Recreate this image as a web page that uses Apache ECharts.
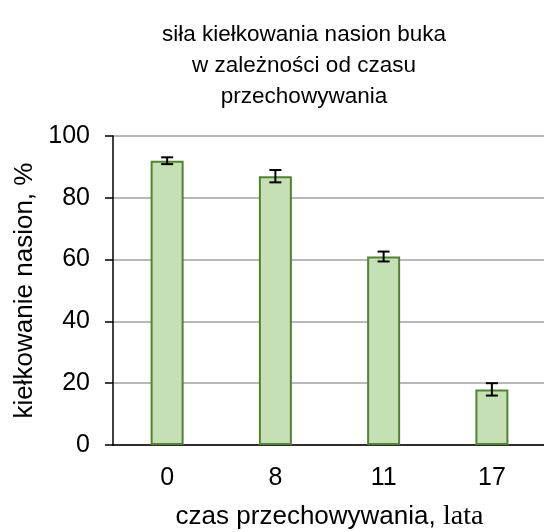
<!DOCTYPE html>
<html><head><meta charset="utf-8">
<script src="https://cdn.jsdelivr.net/npm/echarts@6/dist/echarts.min.js"></script>
<style>html,body{margin:0;padding:0;background:#fff}#c{width:544px;height:532px}</style>
</head><body><div id="c"></div>
<script>
const categories = ['0', '8', '11', '17'];
const values = [92, 87, 61, 18];
const errors = [1.1, 2, 1.6, 2];
const yTicks = [0, 20, 40, 60, 80, 100];

const chart = echarts.init(document.getElementById('c'), null, {renderer: 'canvas'});
const font = 'Liberation Sans, Arial, sans-serif';
chart.setOption({
  animation: false,
  title: {
    text: 'siła kiełkowania nasion buka\nw zależności od czasu\nprzechowywania',
    left: 299, top: 14, textAlign: 'center',
    textStyle: {fontFamily: font, fontSize: 22.5, fontWeight: 'normal', color: '#000', lineHeight: 31}
  },
  grid: {left: 113, top: 136, width: 433, height: 309, containLabel: false, outerBoundsMode: 'none'},
  xAxis: {
    type: 'category', data: categories,
    axisLine: {lineStyle: {color: '#000', width: 1.5}},
    axisTick: {show: false},
    axisLabel: {fontFamily: font, fontSize: 25, color: '#000', margin: 21},
    name: '{a|czas przechowywania, }{b|lata}',
    nameLocation: 'middle', nameGap: 58,
    nameTextStyle: {
      rich: {
        a: {fontFamily: font, fontSize: 26, color: '#000'},
        b: {fontFamily: 'Liberation Serif, Times New Roman, serif', fontSize: 28, color: '#000'}
      }
    }
  },
  yAxis: {
    type: 'value', min: 0, max: 100, interval: 20,
    axisLine: {show: true, lineStyle: {color: '#000', width: 1.5}},
    axisTick: {show: true, length: 8, lineStyle: {color: '#000', width: 1.5}},
    splitLine: {lineStyle: {color: '#b8b8b8', width: 2}},
    axisLabel: {fontFamily: font, fontSize: 25, color: '#000', margin: 23,
      formatter: v => yTicks.includes(v) ? String(v) : ''},
    name: 'kiełkowanie nasion, %', nameLocation: 'middle', nameGap: 69,
    nameTextStyle: {fontFamily: font, fontSize: 26, color: '#000'}
  },
  series: [
    {
      type: 'bar', data: values, barWidth: 33,
      itemStyle: {color: '#c5e0b4', borderColor: '#548235', borderWidth: 2}
    },
    {
      type: 'custom',
      data: values.map((v, i) => [i, v - errors[i], v + errors[i]]),
      renderItem: function (params, api) {
        const x = api.value(0);
        const lo = api.coord([x, api.value(1)]);
        const hi = api.coord([x, api.value(2)]);
        const hw = 6;
        const st = {stroke: '#000', lineWidth: 2};
        return {
          type: 'group',
          children: [
            {type: 'line', shape: {x1: lo[0], y1: lo[1], x2: hi[0], y2: hi[1]}, style: st},
            {type: 'line', shape: {x1: lo[0] - hw, y1: lo[1], x2: lo[0] + hw, y2: lo[1]}, style: st},
            {type: 'line', shape: {x1: hi[0] - hw, y1: hi[1], x2: hi[0] + hw, y2: hi[1]}, style: st}
          ]
        };
      },
      z: 10
    }
  ]
});
</script></body></html>
